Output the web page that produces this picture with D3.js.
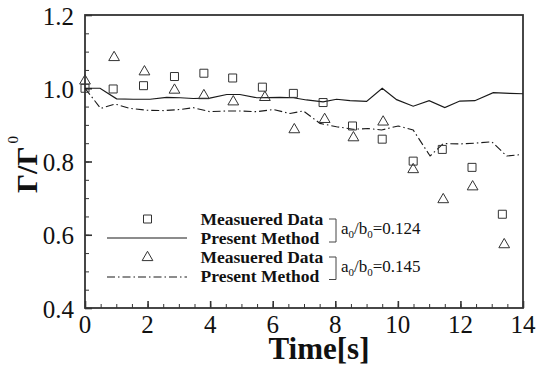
<!DOCTYPE html>
<html>
<head>
<meta charset="utf-8">
<script src="https://cdn.jsdelivr.net/npm/d3@7"></script>
<style>
  html, body { margin: 0; padding: 0; background: #fff; }
  svg { display: block; }
  svg text { font-family: "Liberation Serif", "Times New Roman", serif; fill: #111; }
</style>
</head>
<body>
<svg id="chart" width="545" height="369"></svg>
<script>
// Measured circulation ratio, a0/b0 = 0.124 (squares)
const measuredT124 = [0, 0.9, 1.87, 2.86, 3.80, 4.72, 5.67, 6.66, 7.61, 8.55, 9.50, 10.49, 11.42, 12.37, 13.34];
const measuredV124 = [1.0, 0.998, 1.007, 1.032, 1.041, 1.028, 1.003, 0.986, 0.961, 0.897, 0.861, 0.801, 0.833, 0.784, 0.656];

// Measured circulation ratio, a0/b0 = 0.145 (triangles)
const measuredT145 = [0, 0.93, 1.90, 2.86, 3.80, 4.74, 5.75, 6.69, 7.66, 8.58, 9.53, 10.49, 11.45, 12.39, 13.40];
const measuredV145 = [1.02, 1.084, 1.045, 0.995, 0.980, 0.963, 0.975, 0.887, 0.915, 0.865, 0.908, 0.778, 0.696, 0.731, 0.573];

// Present method, a0/b0 = 0.124 (solid)
const methodT124 = [0, 0.48, 1.01, 1.54, 2.08, 2.61, 3.04, 3.46, 3.99, 4.53, 4.95, 5.49, 6.23, 6.66, 7.08, 7.61, 8.04, 8.47, 9.0, 9.5, 9.96, 10.49, 11.0, 11.5, 11.98, 12.46, 13.05, 13.58, 14.0];
const methodV124 = [1.0, 1.0, 0.971, 0.970, 0.970, 0.975, 0.974, 0.972, 0.973, 0.983, 0.983, 0.974, 0.975, 0.974, 0.968, 0.963, 0.970, 0.966, 0.964, 1.0, 0.969, 0.951, 0.966, 0.947, 0.965, 0.966, 0.988, 0.986, 0.985];

// Present method, a0/b0 = 0.145 (dash-dot)
const methodT145 = [0, 0.5, 0.96, 1.44, 1.97, 2.5, 3.04, 3.46, 3.99, 4.53, 4.95, 5.49, 6.02, 6.55, 6.98, 7.51, 8.04, 8.57, 9.05, 9.48, 10.01, 10.49, 11.03, 11.45, 11.98, 12.46, 13.0, 13.48, 13.96];
const methodV145 = [1.0, 0.945, 0.957, 0.945, 0.940, 0.939, 0.942, 0.947, 0.936, 0.938, 0.938, 0.936, 0.942, 0.931, 0.938, 0.904, 0.895, 0.888, 0.890, 0.886, 0.897, 0.886, 0.815, 0.849, 0.848, 0.850, 0.854, 0.815, 0.819];

const xTicks = [0, 2, 4, 6, 8, 10, 12, 14];
const yTicks = [0.4, 0.6, 0.8, 1.0, 1.2];
const xMinor = d3.range(0, 14.001, 0.5);
const yMinor = d3.range(0.4, 1.2001, 0.05);

const legendLabels = ["Measuered Data", "Present Method", "Measuered Data", "Present Method"];
const ratioLabels = ["0.124", "0.145"];

const W = 545, H = 369;
const margin = { left: 85, top: 15, right: 22, bottom: 61 };
const iw = W - margin.left - margin.right;
const ih = H - margin.top - margin.bottom;

const svg = d3.select("#chart");
const g = svg.append("g").attr("transform", `translate(${margin.left},${margin.top})`);

const x = d3.scaleLinear().domain([0, 14]).range([0, iw]);
const y = d3.scaleLinear().domain([0.4, 1.2]).range([ih, 0]);

const axisColor = "#333";

// minor ticks
g.append("g").attr("transform", `translate(0,${ih})`)
  .call(d3.axisBottom(x).tickValues(xMinor).tickSize(-4).tickFormat(""))
  .call(a => a.select(".domain").remove())
  .call(a => a.selectAll("line").attr("stroke", axisColor).attr("stroke-width", 1));
g.append("g")
  .call(d3.axisLeft(y).tickValues(yMinor).tickSize(-4).tickFormat(""))
  .call(a => a.select(".domain").remove())
  .call(a => a.selectAll("line").attr("stroke", axisColor).attr("stroke-width", 1));

// major ticks
g.append("g").attr("transform", `translate(0,${ih})`)
  .call(d3.axisBottom(x).tickValues(xTicks).tickSize(-7).tickFormat(""))
  .call(a => a.select(".domain").remove())
  .call(a => a.selectAll("line").attr("stroke", axisColor).attr("stroke-width", 1.6));
g.append("g")
  .call(d3.axisLeft(y).tickValues(yTicks).tickSize(-7).tickFormat(""))
  .call(a => a.select(".domain").remove())
  .call(a => a.selectAll("line").attr("stroke", axisColor).attr("stroke-width", 1.6));

// tick labels in a serif face
const fmtX = d3.format("d"), fmtY = d3.format(".1f");
g.append("g").selectAll("text").data(xTicks).join("text")
  .attr("x", d => x(d)).attr("y", ih + 25)
  .attr("text-anchor", "middle")
  .style("font-family", "Liberation Serif").style("font-size", "25px")
  .text(fmtX);
g.append("g").selectAll("text").data(yTicks).join("text")
  .attr("x", -11).attr("y", d => y(d)).attr("dy", "0.38em")
  .attr("text-anchor", "end")
  .style("font-family", "Liberation Serif").style("font-size", "25px")
  .text(fmtY);

// frame
g.append("rect").attr("x", 0).attr("y", 0).attr("width", iw).attr("height", ih)
  .attr("fill", "none").attr("stroke", axisColor).attr("stroke-width", 1.8);

// curves
const line = d3.line().x(d => x(d[0])).y(d => y(d[1]));
const solid = methodT124.map((t, i) => [t, methodV124[i]]);
const dashdot = methodT145.map((t, i) => [t, methodV145[i]]);
const dashPattern = "8,3,1.5,3";

g.append("path").datum(solid).attr("d", line)
  .attr("fill", "none").attr("stroke", "#1a1a1a").attr("stroke-width", 1.2);
g.append("path").datum(dashdot).attr("d", line)
  .attr("fill", "none").attr("stroke", "#1a1a1a").attr("stroke-width", 1.1)
  .attr("stroke-dasharray", dashPattern);

// markers
const sq = 8;
const squareSym = d3.symbol().type(d3.symbolSquare).size(sq * sq);
const triSym = d3.symbol().type(d3.symbolTriangle).size(50);

g.append("g").selectAll("path")
  .data(measuredT124.map((t, i) => [t, measuredV124[i]]))
  .join("path")
  .attr("d", squareSym)
  .attr("transform", d => `translate(${x(d[0])},${y(d[1])})`)
  .attr("fill", "none").attr("stroke", "#333").attr("stroke-width", 1);

g.append("g").selectAll("path")
  .data(measuredT145.map((t, i) => [t, measuredV145[i]]))
  .join("path")
  .attr("d", triSym)
  .attr("transform", d => `translate(${x(d[0])},${y(d[1])})`)
  .attr("fill", "none").attr("stroke", "#333").attr("stroke-width", 1);

// legend
const leg = svg.append("g");
leg.append("path").attr("d", squareSym).attr("transform", "translate(147.5,219)")
  .attr("fill", "none").attr("stroke", "#333").attr("stroke-width", 1);
leg.append("line").attr("x1", 107).attr("x2", 187).attr("y1", 238).attr("y2", 238)
  .attr("stroke", "#1a1a1a").attr("stroke-width", 1.2);
leg.append("path").attr("d", triSym).attr("transform", "translate(147.5,257.5)")
  .attr("fill", "none").attr("stroke", "#333").attr("stroke-width", 1);
leg.append("line").attr("x1", 107).attr("x2", 187).attr("y1", 277).attr("y2", 277)
  .attr("stroke", "#1a1a1a").attr("stroke-width", 1.1).attr("stroke-dasharray", dashPattern);

const baselines = [225, 243.5, 263, 281.5];
legendLabels.forEach((s, i) => {
  leg.append("text").attr("x", 200.5).attr("y", baselines[i])
    .attr("font-size", 17.5).attr("font-weight", "bold").text(s);
});

// brackets grouping each pair
[[219, 242], [257, 279.5]].forEach(([y0, y1]) => {
  leg.append("path").attr("d", `M329,${y0}H336V${y1}H329`)
    .attr("fill", "none").attr("stroke", "#444").attr("stroke-width", 1);
});

[233.5, 271.5].forEach((by, i) => {
  const t = leg.append("text").attr("x", 341).attr("y", by).attr("font-size", 17);
  t.append("tspan").text("a");
  t.append("tspan").attr("font-size", 11).attr("dy", 4).text("0");
  t.append("tspan").attr("dy", -4).text("/b");
  t.append("tspan").attr("font-size", 11).attr("dy", 4).text("0");
  t.append("tspan").attr("dy", -4).text("=" + ratioLabels[i]);
});

// axis titles
svg.append("text").attr("x", 319).attr("y", 359)
  .attr("text-anchor", "middle").attr("font-size", 31).attr("font-weight", "bold")
  .text("Time[s]");

const yt = svg.append("text").attr("transform", "translate(37,193) rotate(-90)")
  .attr("font-size", 30).attr("font-weight", "bold");
yt.append("tspan").text("Γ/Γ");
yt.append("tspan").attr("font-size", 15).attr("font-weight", "normal").attr("dx", 3).attr("dy", -19).text("0");
</script>
</body>
</html>
